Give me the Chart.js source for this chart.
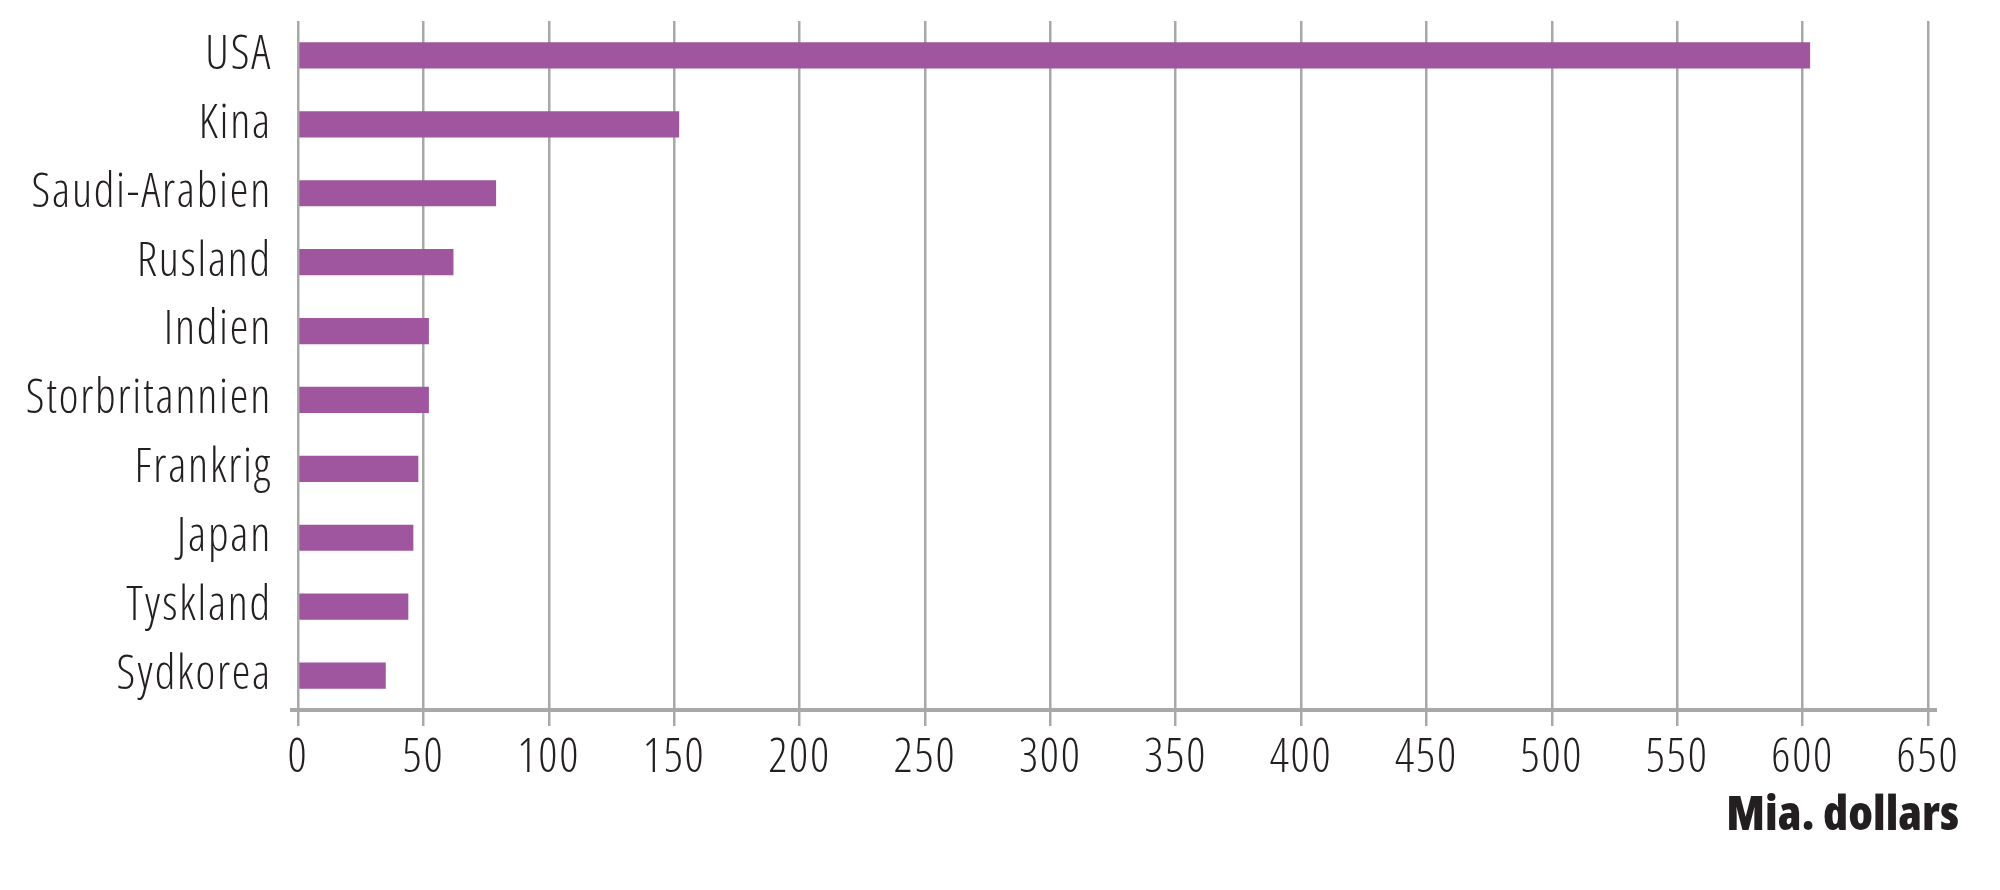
<!DOCTYPE html>
<html>
<head>
<meta charset="utf-8">
<script src="https://cdn.jsdelivr.net/npm/chart.js@4/dist/chart.umd.min.js"></script>
<style>
  html, body { margin: 0; padding: 0; background: #ffffff; }
  #wrap { width: 2000px; height: 890px; }
</style>
</head>
<body>
<div id="wrap"><canvas id="c" width="2000" height="890"></canvas></div>
<script>
const categories = ["USA", "Kina", "Saudi-Arabien", "Rusland", "Indien", "Storbritannien", "Frankrig", "Japan", "Tyskland", "Sydkorea"];
const values = [603, 152, 79, 62, 52.2, 52.2, 48, 46, 44, 35];
const axisTitle = "Mia. dollars";
const xMin = 0, xMax = 650, xStep = 50;

const FONT = "'Open Sans', 'DejaVu Sans Condensed', sans-serif";
const TEXT = "#231f20";
const GRID = "#a8a8a8";
const BAR = "#a0559f";

const extras = {
  id: "extras",
  beforeDraw(chart) {
    chart.ctx.letterSpacing = "1.8px";
  },
  afterDatasetsDraw(chart) {
    const { ctx, chartArea } = chart;
    ctx.save();
    ctx.strokeStyle = GRID;
    ctx.lineWidth = 4;
    ctx.beginPath();
    ctx.moveTo(chartArea.left - 8, chartArea.bottom);
    ctx.lineTo(chartArea.right + 9, chartArea.bottom);
    ctx.stroke();
    ctx.letterSpacing = "0px";
    ctx.fillStyle = TEXT;
    ctx.font = "800 condensed 48px " + FONT;
    ctx.textAlign = "right";
    ctx.textBaseline = "alphabetic";
    ctx.fillText(axisTitle, chartArea.right + 31, chartArea.bottom + 120);
    ctx.restore();
  }
};

new Chart(document.getElementById("c"), {
  type: "bar",
  data: {
    labels: categories,
    datasets: [{
      data: values,
      backgroundColor: BAR,
      borderWidth: 0,
      barPercentage: 0.38,
      categoryPercentage: 1.0
    }]
  },
  options: {
    indexAxis: "y",
    responsive: false,
    devicePixelRatio: 1,
    animation: false,
    layout: { padding: { left: 0, right: 72, top: 21, bottom: 0 } },
    plugins: { legend: { display: false }, tooltip: { enabled: false } },
    scales: {
      x: {
        type: "linear",
        min: xMin, max: xMax,
        afterFit(scale) { scale.height = 180; scale.paddingLeft = 0; scale.paddingRight = 0; },
        ticks: {
          stepSize: xStep,
          color: TEXT,
          padding: 4,
          font: { family: FONT, size: 47, weight: "350 condensed" },
          maxRotation: 0
        },
        grid: {
          color: GRID,
          lineWidth: 2.5,
          drawTicks: true,
          tickLength: 16
        },
        border: { display: false }
      },
      y: {
        type: "category",
        afterFit(scale) { scale.width = 298; scale.paddingTop = 0; scale.paddingBottom = 0; },
        ticks: {
          color: TEXT,
          padding: 18,
          font: { family: FONT, size: 47, weight: "350 condensed" }
        },
        grid: { display: false },
        border: { display: false }
      }
    }
  },
  plugins: [extras]
});
</script>
</body>
</html>
